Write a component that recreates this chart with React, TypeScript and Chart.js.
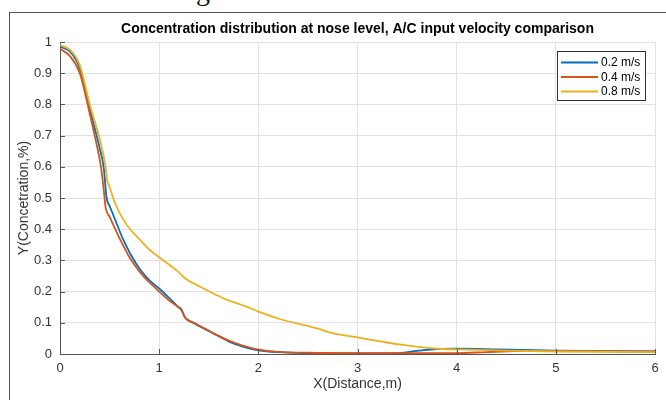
import React, { useEffect, useRef } from "react";
import { Chart, registerables } from "chart.js";

Chart.register(...registerables);

const chartTitle = "Concentration distribution at nose level, A/C input velocity comparison";
const xAxisTitle = "X(Distance,m)";
const yAxisTitle = "Y(Concetration,%)";
const seriesLabels = ["0.2 m/s", "0.4 m/s", "0.8 m/s"];
const seriesColors = ["#0072BD", "#D95319", "#EDB120"];

const blueX = [0, 0.1, 0.2, 0.3, 0.4, 0.44, 0.47, 0.5, 0.55, 0.64, 0.72, 0.81, 0.9, 1.0, 1.1, 1.19, 1.22, 1.26, 1.35, 1.48, 1.6, 1.71, 1.85, 2.0, 2.2, 2.5, 3.0, 3.4, 3.6, 3.8, 4.0, 4.4, 5.0, 6.0];
const blueY = [0.985, 0.97, 0.915, 0.785, 0.66, 0.6, 0.5, 0.475, 0.435, 0.365, 0.315, 0.27, 0.237, 0.21, 0.18, 0.152, 0.145, 0.118, 0.099, 0.077, 0.057, 0.039, 0.023, 0.012, 0.006, 0.003, 0.002, 0.003, 0.01, 0.016, 0.017, 0.015, 0.011, 0.008];

const redX = [0, 0.1, 0.2, 0.3, 0.35, 0.413, 0.44, 0.46, 0.5, 0.55, 0.61, 0.7, 0.8, 0.9, 1.0, 1.1, 1.2, 1.23, 1.26, 1.35, 1.48, 1.6, 1.71, 1.85, 2.0, 2.2, 2.5, 3.0, 4.0, 4.3, 4.6, 5.0, 6.0];
const redY = [0.978, 0.955, 0.9, 0.77, 0.7, 0.6, 0.53, 0.47, 0.44, 0.405, 0.365, 0.31, 0.265, 0.23, 0.2, 0.172, 0.148, 0.138, 0.117, 0.1, 0.078, 0.058, 0.042, 0.026, 0.014, 0.007, 0.004, 0.003, 0.003, 0.006, 0.009, 0.009, 0.008];

const yellowX = [0, 0.1, 0.2, 0.3, 0.4, 0.46, 0.475, 0.5, 0.56, 0.64, 0.72, 0.81, 0.9, 1.0, 1.1, 1.19, 1.26, 1.4, 1.52, 1.65, 1.78, 1.88, 2.0, 2.25, 2.59, 2.76, 3.0, 3.26, 3.46, 3.66, 3.86, 4.0, 4.5, 5.0, 6.0];
const yellowY = [0.99, 0.975, 0.925, 0.8, 0.69, 0.6, 0.558, 0.535, 0.48, 0.43, 0.395, 0.365, 0.335, 0.31, 0.287, 0.264, 0.243, 0.218, 0.198, 0.178, 0.163, 0.152, 0.136, 0.109, 0.082, 0.066, 0.053, 0.039, 0.029, 0.021, 0.016, 0.015, 0.011, 0.008, 0.006];

const xTickValues = [0, 1, 2, 3, 4, 5, 6];
const yTickValues = [0, 0.1, 0.2, 0.3, 0.4, 0.5, 0.6, 0.7, 0.8, 0.9, 1];

const FONT = "'Liberation Sans', Arial, Helvetica, sans-serif";

const toPoints = (xs: number[], ys: number[]) => xs.map((x, i) => ({ x, y: ys[i] }));

const decorPlugin = {
  id: "decor",
  afterDatasetsDraw(chart: any) {
    const { ctx, chartArea, scales } = chart;
    const xs = scales.x;
    const ys = scales.y;
    ctx.save();
    // inward ticks
    ctx.strokeStyle = "#555";
    ctx.lineWidth = 1;
    ctx.beginPath();
    xTickValues.forEach((v) => {
      const px = Math.round(xs.getPixelForValue(v)) + 0.5;
      ctx.moveTo(px, chartArea.bottom);
      ctx.lineTo(px, chartArea.bottom - 5);
    });
    yTickValues.forEach((v) => {
      const py = Math.round(ys.getPixelForValue(v)) + 0.5;
      ctx.moveTo(chartArea.left, py);
      ctx.lineTo(chartArea.left + 5, py);
    });
    ctx.stroke();

    // title
    ctx.fillStyle = "#000";
    ctx.font = `bold 14px ${FONT}`;
    ctx.textAlign = "center";
    ctx.textBaseline = "middle";
    ctx.fillText(chartTitle, (chartArea.left + chartArea.right) / 2, 29);

    // legend
    const bx = 557.5, by = 51.5, bw = 88, bh = 49;
    ctx.fillStyle = "#fff";
    ctx.fillRect(bx, by, bw, bh);
    ctx.strokeStyle = "#333";
    ctx.lineWidth = 1;
    ctx.strokeRect(bx, by, bw, bh);
    ctx.font = `12px ${FONT}`;
    ctx.textAlign = "left";
    chart.data.datasets.forEach((ds: any, i: number) => {
      const y = 62.5 + i * 14.5;
      ctx.strokeStyle = ds.borderColor;
      ctx.lineWidth = 1.8;
      ctx.beginPath();
      ctx.moveTo(561, y);
      ctx.lineTo(598, y);
      ctx.stroke();
      ctx.fillStyle = "#000";
      ctx.fillText(ds.label, 601, y + 0.5);
    });
    ctx.restore();
  },
};

export default function App() {
  const canvasRef = useRef<HTMLCanvasElement | null>(null);

  useEffect(() => {
    document.body.style.margin = "0";
    const canvas = canvasRef.current;
    if (!canvas) return;
    const datasets = [
      { label: seriesLabels[0], data: toPoints(blueX, blueY), borderColor: seriesColors[0], order: 3 },
      { label: seriesLabels[1], data: toPoints(redX, redY), borderColor: seriesColors[1], order: 2 },
      { label: seriesLabels[2], data: toPoints(yellowX, yellowY), borderColor: seriesColors[2], order: 1 },
    ].map((d) => ({
      ...d,
      backgroundColor: d.borderColor,
      borderWidth: 1.8,
      pointRadius: 0,
      cubicInterpolationMode: "monotone",
      fill: false,
    }));

    const chart = new Chart(canvas, {
      type: "line",
      data: { datasets },
      options: {
        animation: false,
        responsive: false,
        devicePixelRatio: 1,
        events: [],
        layout: { padding: { top: 42, right: 11, left: 0, bottom: 0 } },
        scales: {
          x: {
            type: "linear",
            min: 0,
            max: 6,
            afterFit: (s: any) => {
              s.height = 46;
            },
            afterBuildTicks: (s: any) => {
              s.ticks = xTickValues.map((v) => ({ value: v }));
            },
            ticks: {
              color: "#333",
              font: { family: FONT, size: 13 },
              padding: 7,
              maxRotation: 0,
              callback: (v: any) => String(v),
            },
            grid: { color: "#e1e1e1", lineWidth: 1, drawTicks: false },
            border: { display: true, color: "#555", width: 1 },
            title: {
              display: true,
              text: xAxisTitle,
              color: "#333",
              font: { family: FONT, size: 14 },
              padding: { top: 0, bottom: 7 },
            },
          },
          y: {
            type: "linear",
            min: 0,
            max: 1,
            afterFit: (s: any) => {
              s.width = 60;
            },
            afterBuildTicks: (s: any) => {
              s.ticks = yTickValues.map((v) => ({ value: v }));
            },
            ticks: {
              color: "#333",
              font: { family: FONT, size: 13 },
              padding: 8,
              callback: (v: any) => String(Math.round(Number(v) * 10) / 10),
            },
            grid: { color: "#e1e1e1", lineWidth: 1, drawTicks: false },
            border: { display: true, color: "#555", width: 1 },
            title: {
              display: true,
              text: yAxisTitle,
              color: "#333",
              font: { family: FONT, size: 14 },
              padding: { top: 16, bottom: 0 },
            },
          },
        },
        plugins: {
          legend: { display: false },
          title: { display: false },
          tooltip: { enabled: false },
        },
      } as any,
      plugins: [decorPlugin],
    });
    return () => chart.destroy();
  }, []);

  return (
    <div
      style={{
        position: "fixed",
        left: 0,
        top: 0,
        width: 666,
        height: 400,
        overflow: "hidden",
        background: "#fff",
      }}
    >
      <div
        style={{
          position: "absolute",
          left: 196,
          top: -23,
          fontFamily: "'Liberation Serif', 'Times New Roman', serif",
          fontSize: 28,
          lineHeight: "28px",
          color: "#111",
        }}
      >
        g
      </div>
      <div
        style={{
          position: "absolute",
          left: 9,
          top: 12,
          width: 800,
          height: 600,
          border: "1.5px solid #555",
          boxSizing: "border-box",
        }}
      />
      <canvas
        ref={canvasRef}
        width={666}
        height={400}
        style={{ position: "absolute", left: 0, top: 0, width: 666, height: 400 }}
      />
    </div>
  );
}
